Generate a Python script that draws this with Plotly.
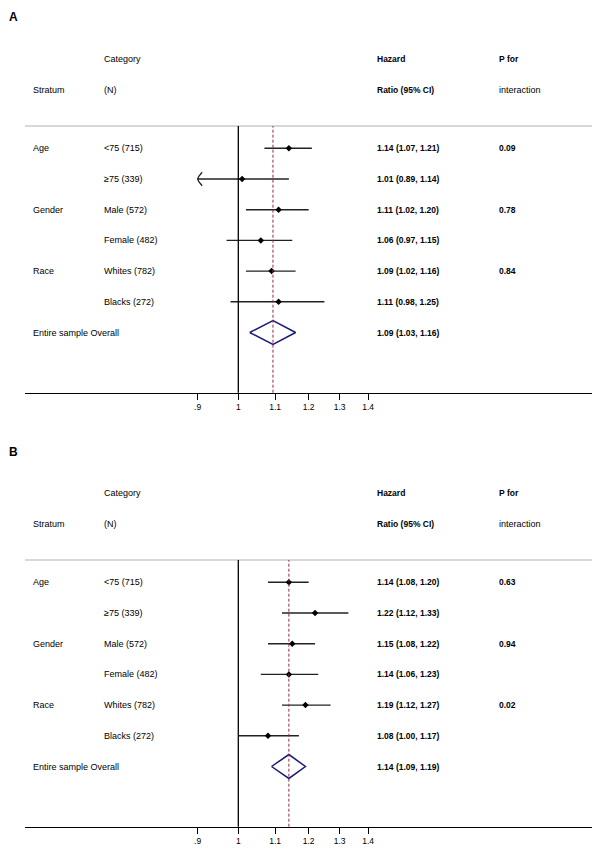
import math
import plotly.graph_objects as go

# ---------------- data ----------------
strata = ["Age", "", "Gender", "", "Race", "", "Entire sample Overall"]
categories = ["<75 (715)", "≥75 (339)", "Male (572)", "Female (482)",
              "Whites (782)", "Blacks (272)", ""]

# Panel A
hr_a = [1.14, 1.01, 1.11, 1.06, 1.09, 1.11]
lo_a = [1.07, 0.89, 1.02, 0.97, 1.02, 0.98]
hi_a = [1.21, 1.14, 1.20, 1.15, 1.16, 1.25]
p_a = ["0.09", "", "0.78", "", "0.84", ""]
overall_a = [1.094, 1.03, 1.16]

# Panel B
hr_b = [1.14, 1.22, 1.15, 1.14, 1.19, 1.08]
lo_b = [1.08, 1.12, 1.08, 1.06, 1.12, 1.00]
hi_b = [1.20, 1.33, 1.22, 1.23, 1.27, 1.17]
p_b = ["0.63", "", "0.94", "", "0.02", ""]
overall_b = [1.14, 1.09, 1.19]

tick_vals = [0.9, 1.0, 1.1, 1.2, 1.3, 1.4]
tick_text = [".9", "1", "1.1", "1.2", "1.3", "1.4"]

# ---------------- layout constants (screen pixels) ----------------
PAGE_OFF = 8          # default body margin of the html page
W, H = 600 - PAGE_OFF, 850 - PAGE_OFF
PLOT_L, PLOT_R = 25, 595
ROW0 = 148.3          # first data row centre (panel A)
ROW_H = 30.7
TOP_LINE = 126.0      # grey rule
AXIS_Y = 392.7        # x-axis line
HEAD1, HEAD2 = 59.0, 90.0
OFFSET_B = 434.0
ONE_X = 238.3
PX_PER_DEC = 888.8

COL_STRAT, COL_CAT, COL_HR, COL_P = 31, 101.7, 375, 497

FONT = "Liberation Sans, Arial, Helvetica, sans-serif"
clip_lo = tick_vals[0]

r_top = (TOP_LINE - ROW0) / ROW_H
r_bot = (AXIS_Y - ROW0) / ROW_H


def py(px):
    return 1 - (px - PAGE_OFF) / H


def px_x(px):
    return (px - PAGE_OFF) / W


fig = go.Figure()
annotations = []
shapes = []

panels = [
    ("A", hr_a, lo_a, hi_a, p_a, overall_a, "x", "y", 0.0),
    ("B", hr_b, lo_b, hi_b, p_b, overall_b, "x2", "y2", OFFSET_B),
]

for letter, hr, lo, hi, pv, ov, xa, ya, off in panels:
    rows = list(range(len(hr)))
    # CI lines
    xs, ys = [], []
    for r, l, h in zip(rows, lo, hi):
        xs += [max(l, clip_lo), h, None]
        ys += [r, r, None]
    fig.add_trace(go.Scatter(x=xs, y=ys, mode="lines", xaxis=xa, yaxis=ya,
                             line=dict(color="#222222", width=1.4),
                             hoverinfo="skip", showlegend=False))
    # arrows for clipped CIs
    for r, l in zip(rows, lo):
        if l < clip_lo:
            f = math.exp(4.5 / 386)
            g = math.exp(1.2 / 386)
            fig.add_trace(go.Scatter(
                x=[clip_lo * f, clip_lo * g, clip_lo, clip_lo * g, clip_lo * f],
                y=[r - 0.22, r - 0.09, r, r + 0.09, r + 0.22],
                mode="lines", xaxis=xa, yaxis=ya,
                line=dict(color="#222222", width=1.3),
                hoverinfo="skip", showlegend=False))
    # point estimates
    fig.add_trace(go.Scatter(x=hr, y=rows, mode="markers", xaxis=xa, yaxis=ya,
                             marker=dict(symbol="diamond", size=5, color="black"),
                             showlegend=False))
    # overall diamond
    ro = len(hr)
    est, l, h = ov
    fig.add_trace(go.Scatter(x=[l, est, h, est, l],
                             y=[ro, ro - 0.39, ro, ro + 0.39, ro],
                             mode="lines", xaxis=xa, yaxis=ya,
                             line=dict(color="#1c1c78", width=1.5),
                             hoverinfo="skip", showlegend=False))

    # shapes: grey rule, null line, dashed overall line
    shapes.append(dict(type="line", xref="paper", yref="paper",
                       x0=px_x(PLOT_L), x1=px_x(PLOT_R),
                       y0=py(TOP_LINE + off), y1=py(TOP_LINE + off),
                       line=dict(color="#d8d8d8", width=2)))
    shapes.append(dict(type="line", xref=xa, yref=f"{ya} domain",
                       x0=1, x1=1, y0=0, y1=1,
                       line=dict(color="black", width=1.3)))
    shapes.append(dict(type="line", xref=xa, yref=f"{ya} domain",
                       x0=est, x1=est, y0=0, y1=1,
                       line=dict(color="#8c2d3c", width=1, dash="3px,2px")))

    # panel letter (top-anchored so it stays inside the page)
    annotations.append(dict(text=f"<b>{letter}</b>", xref="paper", yref="paper",
                            x=px_x(6.5), y=py(max(8.5, 4.5 + off + (4 if off else 0))),
                            xanchor="left", yanchor="top", showarrow=False,
                            font=dict(size=12, family=FONT, color="black")))
    heads = [
        (COL_CAT, HEAD1, "Category", 9),
        (COL_STRAT, HEAD2, "Stratum", 9),
        (COL_CAT, HEAD2, "(N)", 9),
        (COL_HR, HEAD1, "<b>Hazard</b>", 8.5),
        (COL_HR, HEAD2, "<b>Ratio (95% CI)</b>", 8.5),
        (COL_P, HEAD1, "<b>P for</b>", 8.5),
        (COL_P, HEAD2, "interaction", 9),
    ]
    for cx, cy, t, fs in heads:
        annotations.append(dict(text=t, xref="paper", yref="paper",
                                x=px_x(cx), y=py(cy + off), xanchor="left",
                                yanchor="middle", showarrow=False,
                                font=dict(size=fs, family=FONT, color="black")))
    # row texts
    all_hr = hr + [ov[0]]
    all_lo = lo + [ov[1]]
    all_hi = hi + [ov[2]]
    all_p = pv + [""]
    for r in range(len(all_hr)):
        row_items = [
            (COL_STRAT, strata[r], 9),
            (COL_CAT, categories[r], 9),
            (COL_HR, f"<b>{all_hr[r]:.2f} ({all_lo[r]:.2f}, {all_hi[r]:.2f})</b>", 8.5),
            (COL_P, f"<b>{all_p[r]}</b>" if all_p[r] else "", 8.5),
        ]
        for cx, t, fs in row_items:
            if not t:
                continue
            annotations.append(dict(text=t, xref="paper", yref=ya,
                                    x=px_x(cx), y=r, xanchor="left",
                                    yanchor="middle", showarrow=False,
                                    font=dict(size=fs, family=FONT, color="black")))

# axes
x_range = [-(ONE_X - PLOT_L) / PX_PER_DEC, (PLOT_R - ONE_X) / PX_PER_DEC]

xaxis_common = dict(type="log", range=x_range, tickvals=tick_vals, ticktext=tick_text,
                    ticks="outside", ticklen=6, tickwidth=1, tickcolor="black",
                    showline=True, linecolor="black", linewidth=1.3,
                    showgrid=False, zeroline=False, automargin=False,
                    tickfont=dict(size=8.5, family=FONT, color="black"),
                    domain=[px_x(PLOT_L), px_x(PLOT_R)])
yaxis_common = dict(range=[r_bot, r_top], showgrid=False, zeroline=False,
                    showticklabels=False, showline=False, ticks="", automargin=False)

fig.update_layout(
    width=W, height=H,
    margin=dict(l=0, r=0, t=0, b=0),
    paper_bgcolor="white", plot_bgcolor="white",
    xaxis=dict(**xaxis_common, anchor="y"),
    yaxis=dict(**yaxis_common, anchor="x",
               domain=[py(AXIS_Y), py(TOP_LINE)]),
    xaxis2=dict(**xaxis_common, anchor="y2"),
    yaxis2=dict(**yaxis_common, anchor="x2",
                domain=[py(AXIS_Y + OFFSET_B), py(TOP_LINE + OFFSET_B)]),
    shapes=shapes,
    annotations=annotations,
    font=dict(family=FONT, color="black"),
    showlegend=False,
)

fig.write_html("out.html")
